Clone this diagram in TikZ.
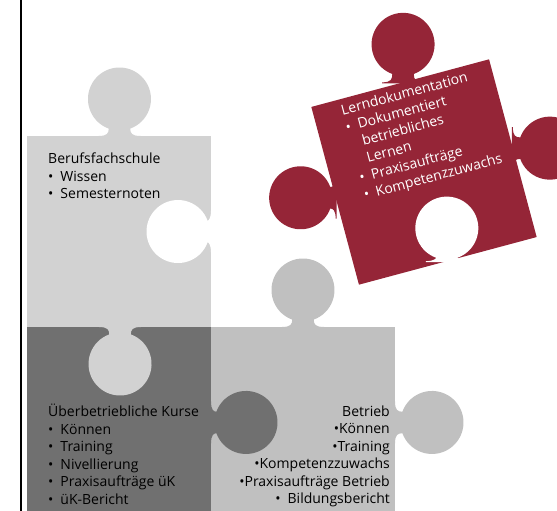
\documentclass[tikz,border=0pt]{standalone}
\usepackage{fontspec}
\setmainfont{Open Sans}
\definecolor{lightpz}{HTML}{D2D2D2}
\definecolor{midpz}{HTML}{C0C0C0}
\definecolor{darkpz}{HTML}{707070}
\definecolor{redpz}{HTML}{952537}
\begin{document}
\begin{tikzpicture}[x=1pt,y=1pt,
  pics/knob/.style={code={
    \fill (-21,0) .. controls (-12,0) and (-10.8,3) .. (-10.8,#1-29.6)
      arc[start angle=250, end angle=-70, radius=31.5]
      .. controls (10.8,3) and (12,0) .. (21,0) -- (21,-1) -- (-21,-1) -- cycle;}},
  txt/.style={font=\fontsize{14}{17.5}\selectfont, inner sep=0pt}]
\useasboundingbox (0,0) rectangle (557,511);
\draw[line width=2pt] (21,0) -- (21,511);
% Betrieb
\fill[midpz] (211,0) rectangle (395,184);
\pic[fill=midpz] at (303,184) {knob=37};
\pic[fill=midpz, rotate=-90] at (395,88.5) {knob=37};
% ueberbetriebliche Kurse
\fill[darkpz] (27,0) rectangle (211,184);
\pic[fill=darkpz, rotate=-90] at (211,88.5) {knob=35};
% Berufsfachschule
\fill[lightpz] (27,184) rectangle (211,375);
\pic[fill=lightpz] at (119.5,375) {knob=37};
\pic[fill=lightpz, rotate=180] at (120,184) {knob=37};
\pic[fill=white, rotate=90] at (211,279.5) {knob=33};
% Lerndokumentation
\begin{scope}[shift={(424,339)}, rotate=15]
\fill[redpz] (-92,-92) rectangle (92,92);
\pic[fill=redpz] at (3,92) {knob=38};
\pic[fill=redpz, rotate=-90] at (92,0) {knob=37};
\pic[fill=redpz, rotate=90] at (-92,-2) {knob=35};
\pic[fill=white] at (-1,-92) {knob=33};
\node[txt, text=white, align=left, anchor=base west, transform shape] (lerndoku) at (-64,-11.5)
  {Lerndokumentation\\•\enspace Dokumentiert\\\hphantom{•\enspace}betriebliches\\\hphantom{•\enspace}Lernen\\•\enspace Praxisaufträge\\•\enspace Kompetenzzuwachs};
\end{scope}
\node[txt, align=left, anchor=base west] (bfs) at (48,312)
  {Berufsfachschule\\•\enspace Wissen\\•\enspace Semesternoten};
\node[txt, align=left, anchor=base west] (uek) at (48,6.5)
  {Überbetriebliche Kurse\\•\enspace Können\\•\enspace Training\\•\enspace Nivellierung\\•\enspace Praxisaufträge üK\\•\enspace üK-Bericht};
\node[txt, align=right, anchor=base east] (betrieb) at (390,7)
  {Betrieb\\•Können\\•Training\\•Kompetenzzuwachs\\•Praxisaufträge Betrieb\\•\enspace Bildungsbericht};
\end{tikzpicture}
\end{document}
